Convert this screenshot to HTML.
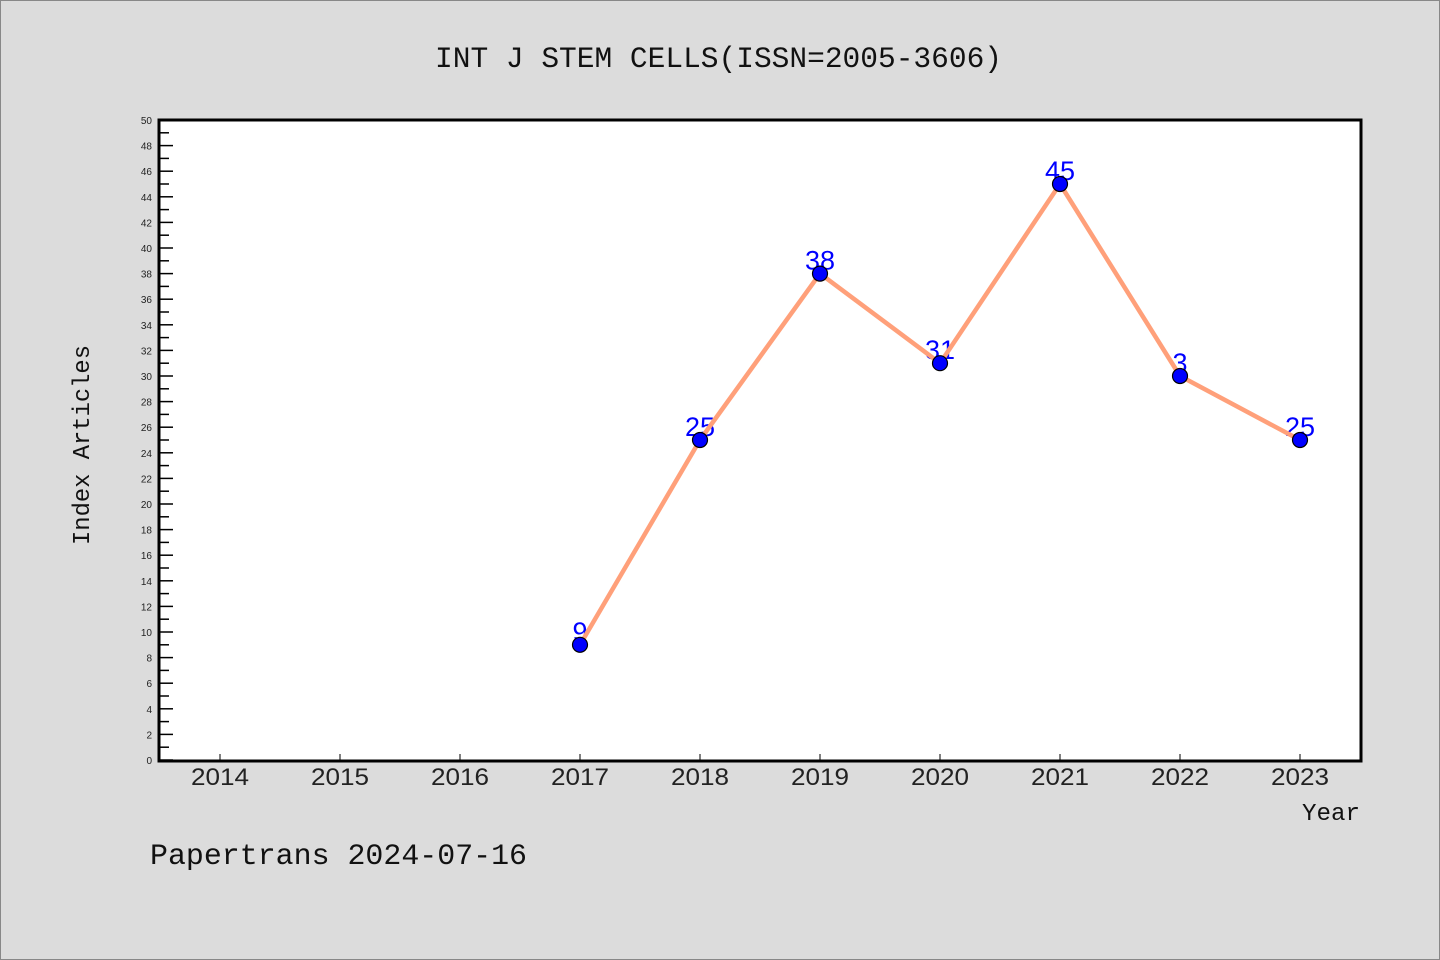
<!DOCTYPE html>
<html><head><meta charset="utf-8"><style>
html,body{margin:0;padding:0;background:#dcdcdc;}
svg{display:block;}
</style></head><body>
<svg width="1440" height="960" xmlns="http://www.w3.org/2000/svg">
<rect x="0.5" y="0.5" width="1439" height="959" fill="#dcdcdc" stroke="#888" stroke-width="1"/>
<text x="435" y="67" font-family="Liberation Mono, monospace" font-size="30" textLength="567" lengthAdjust="spacingAndGlyphs" fill="#111">INT J STEM CELLS(ISSN=2005-3606)</text>
<rect x="159" y="120" width="1202" height="641" fill="#fff" stroke="#000" stroke-width="3"/>
<g id="yaxis"></g>
<g id="xaxis"></g>
<g id="labels"></g>
<g id="series"></g>
<text transform="translate(89,445) rotate(-90)" text-anchor="middle" font-family="Liberation Mono, monospace" font-size="24" textLength="200" lengthAdjust="spacingAndGlyphs" fill="#111">Index Articles</text>
<text x="1302" y="820" font-family="Liberation Mono, monospace" font-size="24" textLength="58" lengthAdjust="spacingAndGlyphs" fill="#111">Year</text>
<text x="150" y="864" font-family="Liberation Mono, monospace" font-size="30" textLength="377" lengthAdjust="spacingAndGlyphs" fill="#111">Papertrans 2024-07-16</text>
</svg>
<script>
const years = [2014,2015,2016,2017,2018,2019,2020,2021,2022,2023];
const dataYears = [2017,2018,2019,2020,2021,2022,2023];
const values = [9,25,38,31,45,30,25];
const valueLabels = ["9","25","38","31","45","3","25"];
const yMax = 50;
const NS="http://www.w3.org/2000/svg";
function xs(y){return 220+(y-2014)*120;}
function ys(v){return 760-v*(640/yMax);}
function mk(t,a,p){const e=document.createElementNS(NS,t);for(const k in a)e.setAttribute(k,a[k]);p.appendChild(e);return e;}
const ya=document.getElementById('yaxis');
for(let v=0;v<=yMax;v++){
  const y=ys(v);
  const major=v%2===0;
  const t=mk('line',{x1:160,x2:160+(major?13:9),y1:y,y2:y,stroke:'#000','stroke-width':1.5},ya);
  
  
  if(major){
    const l=mk('text',{x:152,y:y+4,'text-anchor':'end','font-family':'Liberation Sans, sans-serif','font-size':10,fill:'#222'},ya);
    
    
    l.textContent=v;
  }
}
const xa=document.getElementById('xaxis');
years.forEach(yr=>{
  const x=xs(yr);
  const t=mk('line',{x1:x,x2:x,y1:754,y2:760,stroke:'#000','stroke-width':1},xa);
  
  
  const l=mk('text',{x:x,y:785,'text-anchor':'middle','font-family':'Liberation Sans, sans-serif','font-size':24,textLength:58,lengthAdjust:'spacingAndGlyphs',fill:'#222'},xa);
  
  
  l.textContent=yr;
});
const lb=document.getElementById('labels');
dataYears.forEach((yr,i)=>{
  const l=mk('text',{x:xs(yr),y:ys(values[i])-4,'text-anchor':'middle','font-family':'Liberation Sans, sans-serif','font-size':27,fill:'#0000ff'},lb);
  
  
  l.textContent=valueLabels[i];
});
const s=document.getElementById('series');
const pts=dataYears.map((yr,i)=>xs(yr)+','+ys(values[i])).join(' ');
const pl=mk('polyline',{points:pts,fill:'none',stroke:'#ffa07a','stroke-width':4.5,'stroke-linejoin':'round'},s);


dataYears.forEach((yr,i)=>{
  const c=mk('circle',{cx:xs(yr),cy:ys(values[i]),r:7.5,fill:'#0000ff',stroke:'#000','stroke-width':1.2},s);
  
  
});
</script>
</body></html>
